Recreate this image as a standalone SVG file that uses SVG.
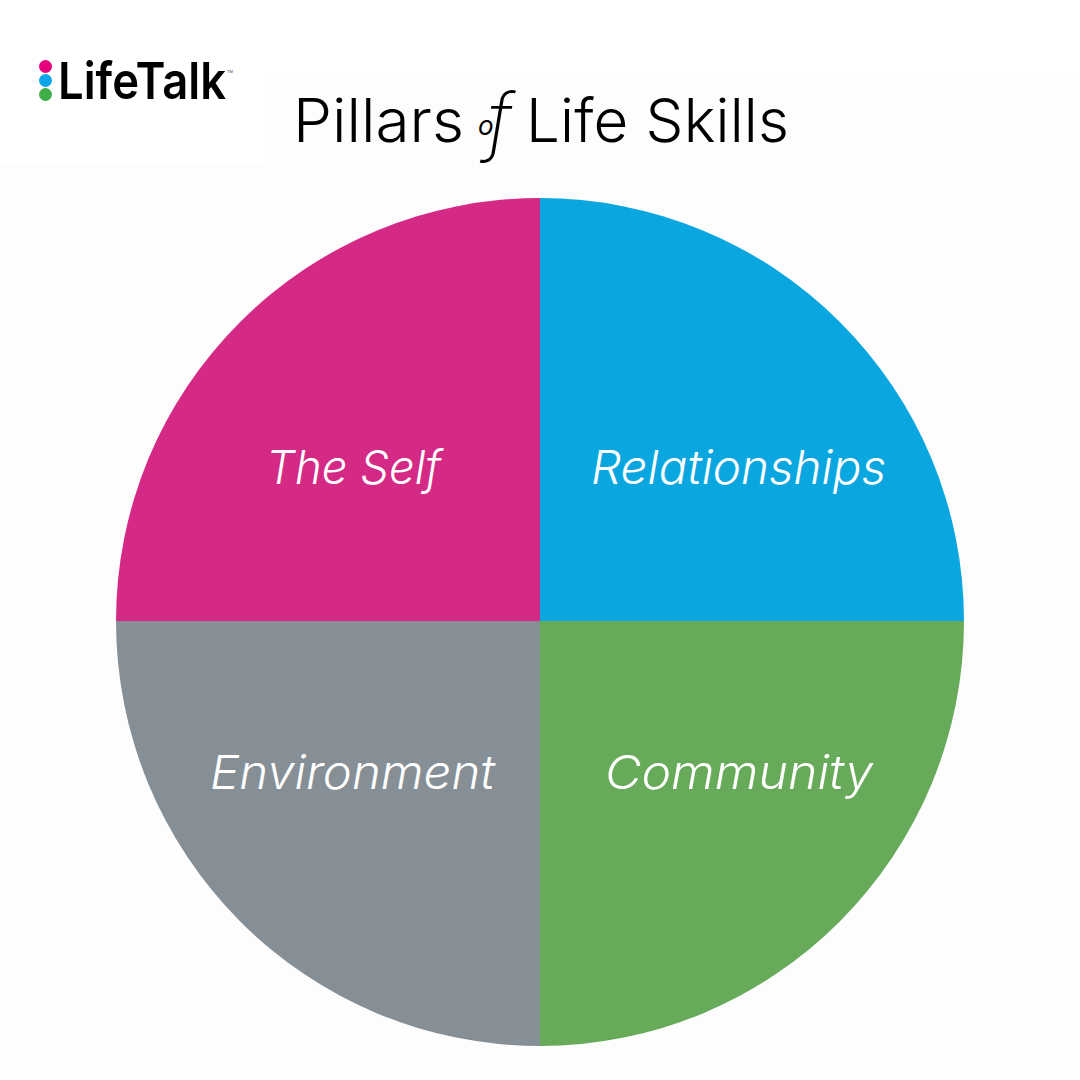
<svg xmlns="http://www.w3.org/2000/svg" width="1080" height="1080" viewBox="0 0 1080 1080">
<style>
.l{font-family:"Inter","Liberation Sans",sans-serif;font-weight:300;font-style:italic;font-size:47px;fill:#fff}
.t{font-family:"Inter","Liberation Sans",sans-serif;font-weight:300;font-size:60px;fill:#000}
</style>
<rect width="1080" height="1080" fill="#fdfdfd"/>
<rect x="0" y="0" width="270" height="165" fill="#fff"/>
<rect x="0" y="0" width="1080" height="78" fill="#fff"/>
<g id="logo"><circle cx="45.500" cy="66.500" r="6.500" fill="#e6007e"/><circle cx="45.500" cy="80.500" r="6.500" fill="#0ea5e9"/><circle cx="45.500" cy="94.500" r="6.500" fill="#3fae49"/>
<text x="58" y="99" font-family="Inter,'Liberation Sans',sans-serif" font-weight="600" font-size="51" textLength="168" lengthAdjust="spacingAndGlyphs" fill="#000">LifeTalk</text><text x="227" y="73" font-family="'Liberation Sans',sans-serif" font-size="4" fill="#333">TM</text></g>
<g id="title"><text class="t" x="293" y="142" textLength="171" lengthAdjust="spacingAndGlyphs">Pillars</text>
<text x="478" y="135" font-family="Inter,'Liberation Sans',sans-serif" font-style="italic" font-weight="400" font-size="26" fill="#000">o<tspan font-size="74" dx="-6" dy="11" font-weight="200">f</tspan></text>
<text class="t" x="526" y="142" textLength="263" lengthAdjust="spacing">Life Skills</text></g>
<g id="self"><path d="M540 621V198A424 423 0 0 0 116 621Z" fill="#d42a86"/><text class="l" x="266" y="484" textLength="175" lengthAdjust="spacingAndGlyphs">The Self</text></g>
<g id="relationships"><path d="M540 621V198A424 423 0 0 1 964 621Z" fill="#0aa6e0"/><text class="l" x="591" y="484" textLength="295" lengthAdjust="spacingAndGlyphs">Relationships</text></g>
<g id="environment"><path d="M540 621H116A424 425 0 0 0 540 1046Z" fill="#868f96"/><text class="l" x="210" y="789" textLength="285" lengthAdjust="spacingAndGlyphs">Environment</text></g>
<g id="community"><path d="M540 621H964A424 425 0 0 1 540 1046Z" fill="#67aa5a"/><text class="l" x="605" y="789" textLength="268" lengthAdjust="spacingAndGlyphs">Community</text></g>
</svg>
